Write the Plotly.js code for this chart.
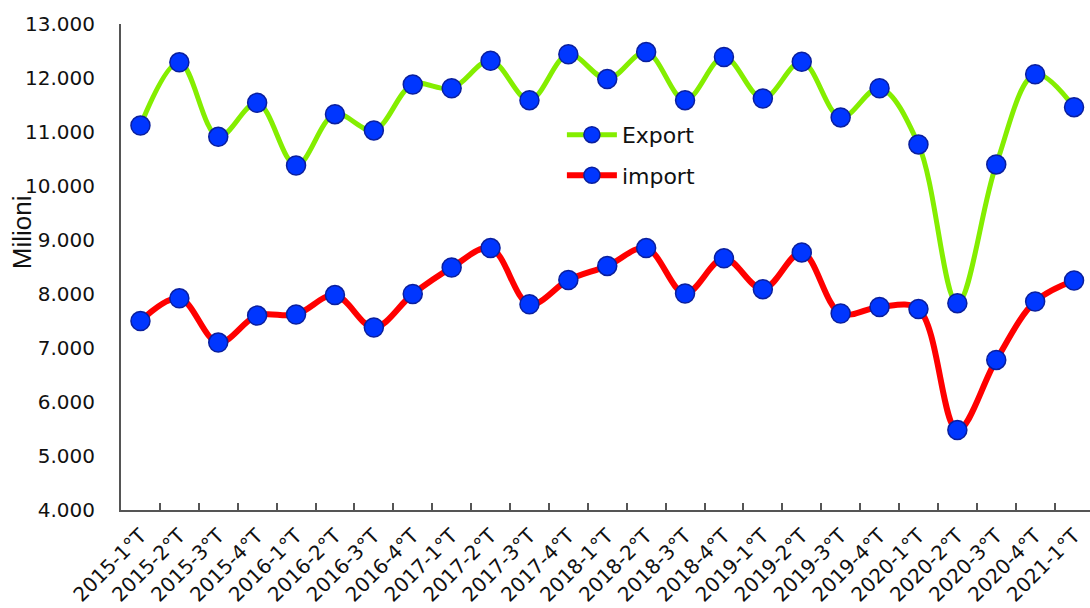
<!DOCTYPE html>
<html>
<head>
<meta charset="utf-8">
<script src="https://cdn.plot.ly/plotly-3.0.1.min.js"></script>
<style>html,body{margin:0;padding:0;background:#fff;}#chart{width:1090px;height:608px;}</style>
</head>
<body>
<div id="chart"></div>
<script>
const quarters = ["2015-1°T","2015-2°T","2015-3°T","2015-4°T","2016-1°T","2016-2°T","2016-3°T","2016-4°T",
  "2017-1°T","2017-2°T","2017-3°T","2017-4°T","2018-1°T","2018-2°T","2018-3°T","2018-4°T",
  "2019-1°T","2019-2°T","2019-3°T","2019-4°T","2020-1°T","2020-2°T","2020-3°T","2020-4°T","2021-1°T"];
const exportValues = [11120,12290,10910,11540,10380,11330,11030,11880,11810,12320,11590,12440,11980,12480,11590,12390,11620,12300,11270,11810,10770,7830,10400,12070,11460];
const importValues = [7500,7920,7100,7600,7620,7980,7380,8000,8490,8850,7810,8260,8520,8850,8010,8660,8090,8770,7640,7760,7720,5480,6780,7860,8250];
const yTicks = [4000,5000,6000,7000,8000,9000,10000,11000,12000,13000];
const yTitle = 'Milioni';

const markerStyle = {size: 19, color: '#0036ff', line: {color: '#0a1f9e', width: 1.5}};

const traces = [
  {x: quarters, y: exportValues, name: 'Export', type: 'scatter', mode: 'lines+markers',
   line: {color: '#84ee00', width: 5, shape: 'spline', smoothing: 1}, marker: markerStyle, legendgroup: 'a'},
  {x: quarters, y: importValues, name: 'import', type: 'scatter', mode: 'lines+markers',
   line: {color: '#ff0000', width: 6, shape: 'spline', smoothing: 1}, marker: markerStyle, legendgroup: 'b'}
];

const layout = {
  width: 1090, height: 608,
  margin: {l: 121, r: 0, t: 24, b: 98},
  paper_bgcolor: '#fff', plot_bgcolor: '#fff',
  separators: ',.',
  showlegend: true,
  legend: {x: 0.455, y: 0.815, xanchor: 'left', yanchor: 'top', bgcolor: 'rgba(0,0,0,0)',
    font: {family: 'DejaVu Sans, Verdana, sans-serif', size: 22, color: '#111'},
    itemwidth: 50, tracegroupgap: 9},
  xaxis: {type: 'category', range: [-0.5, 24.41], showgrid: false, zeroline: false,
    showline: true, linecolor: '#555', linewidth: 2,
    ticks: 'inside', ticklen: 7, tickcolor: '#555', tickwidth: 2, tickson: 'boundaries',
    ticklabelstandoff: 4,
    tickangle: -45, tickfont: {family: 'DejaVu Sans, Verdana, sans-serif', size: 20, color: '#111'}},
  xaxis2: {overlaying: 'x', anchor: 'y', side: 'bottom', range: [-0.5, 24.41], tick0: -0.5, dtick: 1,
    showgrid: false, zeroline: false, showline: false, showticklabels: false,
    ticks: 'outside', ticklen: 5, tickcolor: '#555', tickwidth: 2},
  yaxis: {range: [4000, 13000], tickvals: yTicks, tickformat: ',.0f', showgrid: false, zeroline: false,
    showline: true, linecolor: '#555', linewidth: 2, ticks: '', ticklabelstandoff: 20,
    tickfont: {family: 'DejaVu Sans, Verdana, sans-serif', size: 20, color: '#111'}},
  annotations: [{text: yTitle, xref: 'paper', yref: 'paper', x: -0.102, y: 0.572, xanchor: 'center', yanchor: 'middle',
    textangle: -90, showarrow: false, font: {family: 'Liberation Sans, Arial, sans-serif', size: 26, color: '#111'}}]
};

Plotly.newPlot('chart', traces, layout, {displayModeBar: false, staticPlot: true});
</script>
</body>
</html>
